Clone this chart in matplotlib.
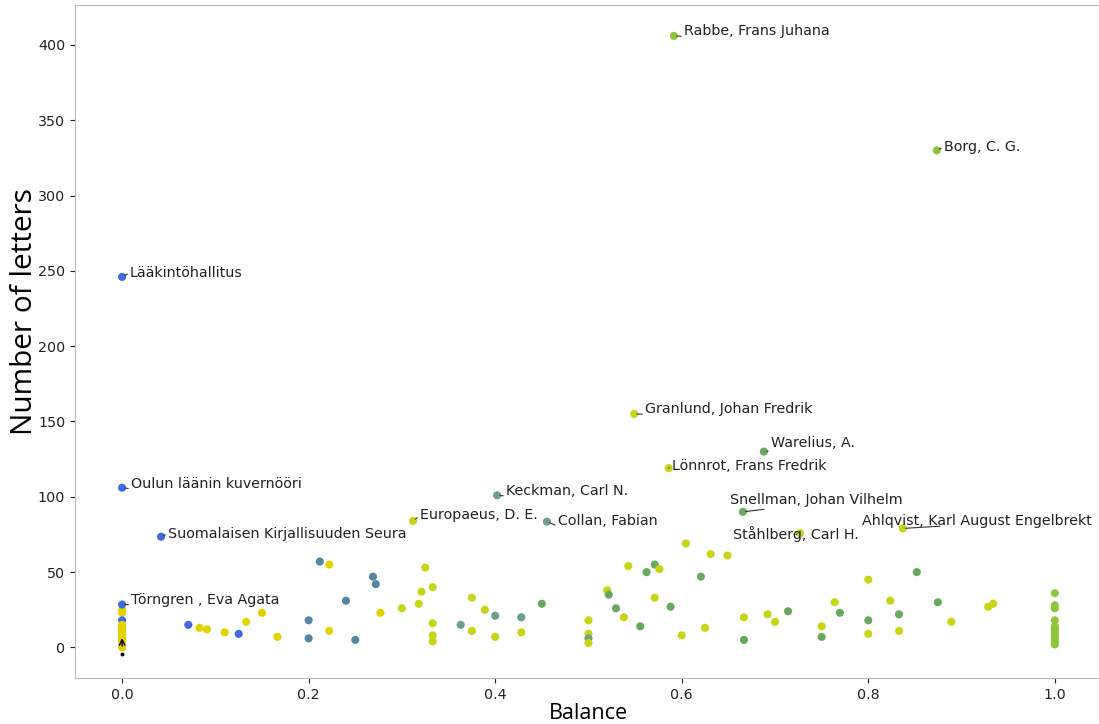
import matplotlib

matplotlib.use("Agg")
import matplotlib.pyplot as plt

# colour groups used by the points
palette = {
    "B": "#4169e1",
    "Y": "#e3d200",
    "T": "#5286a3",
    "S": "#6e9d88",
    "W": "#c6d514",
    "G": "#67a95c",
    "L": "#8dc63a",
}

# unlabelled points: balance, number of letters, colour group
balance = [
    0, 0, 0, 0, 0, 0, 0, 0, 0, 0, 0, 0,
    0.071, 0.083, 0.091, 0.110, 0.125, 0.133, 0.150, 0.1665,
    0.20, 0.20, 0.212, 0.222, 0.222, 0.24, 0.25, 0.269, 0.272, 0.277,
    0.30, 0.318, 0.321, 0.325, 0.333, 0.333, 0.333, 0.333,
    0.363, 0.375, 0.375, 0.389, 0.40, 0.40, 0.428, 0.428, 0.45,
    0.50, 0.50, 0.50, 0.50, 0.52, 0.5217, 0.5295, 0.538, 0.5427,
    0.5555, 0.5623, 0.571, 0.576, 0.571, 0.588, 0.60, 0.6045, 0.6206,
    0.625, 0.631, 0.649, 0.6667, 0.6667, 0.692, 0.70, 0.714,
    0.75, 0.75, 0.764, 0.7695, 0.80, 0.80, 0.80, 0.8235, 0.833, 0.833,
    0.852, 0.8746, 0.889, 0.9286, 0.934,
    1.0, 1.0, 1.0, 1.0, 1.0, 1.0, 1.0, 1.0, 1.0, 1.0, 1.0,
]
letters = [
    25, 23, 18, 15, 13, 11, 9, 7, 5, 4, 2, 0,
    15, 13, 12, 10, 9, 17, 23, 7,
    18, 6, 57, 55, 11, 31, 5, 47, 42, 23,
    26, 29, 37, 53, 40, 16, 8, 4,
    15, 33, 11, 25, 21, 7, 20, 10, 29,
    18, 9, 6, 3, 38, 35, 26, 20, 54,
    14, 50, 55, 52, 33, 27, 8, 69, 47,
    13, 62, 61, 20, 5, 22, 17, 24,
    14, 7, 30, 23, 45, 18, 9, 31, 22, 11,
    50, 30, 17, 27, 29,
    36, 28, 26, 18, 14, 12, 10, 8, 6, 4, 2,
]
group = [
    "Y", "Y", "B", "Y", "Y", "Y", "Y", "Y", "Y", "Y", "Y", "Y",
    "B", "Y", "Y", "Y", "B", "Y", "Y", "Y",
    "T", "T", "T", "Y", "Y", "T", "T", "T", "T", "Y",
    "W", "W", "W", "W", "W", "W", "W", "W",
    "S", "W", "W", "W", "S", "W", "S", "W", "G",
    "W", "W", "S", "W", "W", "G", "G", "W", "W",
    "G", "G", "G", "W", "W", "G", "W", "W", "G",
    "W", "W", "W", "W", "G", "W", "W", "G",
    "W", "G", "W", "G", "W", "G", "W", "W", "G", "W",
    "G", "G", "W", "W", "W",
    "L", "L", "L", "L", "L", "L", "L", "L", "L", "L", "L",
]

# labelled points
names = [
    "Rabbe, Frans Juhana", "Borg, C. G.", "Lääkintöhallitus",
    "Granlund, Johan Fredrik", "Warelius, A.", "Lönnrot, Frans Fredrik",
    "Oulun läänin kuvernööri", "Keckman, Carl N.", "Europaeus, D. E.",
    "Collan, Fabian", "Snellman, Johan Vilhelm", "Ståhlberg, Carl H.",
    "Ahlqvist, Karl August Engelbrekt", "Suomalaisen Kirjallisuuden Seura",
    "Törngren , Eva Agata",
]
name_balance = [0.5916, 0.8735, 0.0, 0.549, 0.688, 0.586, 0.0, 0.402,
                0.312, 0.4555, 0.6656, 0.7267, 0.837, 0.0418, 0.0]
name_letters = [406, 330, 246, 155, 130, 119, 106, 101, 84, 83.5, 90, 76,
                79, 73.5, 28.5]
name_group = ["L", "L", "B", "W", "G", "W", "B", "S", "W", "S", "G", "W",
              "W", "B", "B"]
# where each label sits (data units) and where its leader line meets it
label_x = [0.6024, 0.881, 0.0086, 0.5606, 0.6956, 0.5895, 0.0096, 0.4116,
           0.3194, 0.4673, 0.6517, 0.6549, 0.7931, 0.0493, 0.0096]
label_y = [409.3, 332.3, 248.8, 158.5, 136, 120.7, 108.8, 104.1, 87.6,
           83.6, 98.2, 75, 84.2, 75.6, 31.2]
line_rel = [(0.02, 0.1), (0, 0.5), (0, 0.5), (0.02, 0.1), (0.12, 0.0),
            (0, 0.5), (0.02, 0.1), (0.02, 0.1), (0, 0.5), (0.02, 0.1),
            (0.33, 0.0), (0.5, 0.5), (0.34, 0.1), (0, 0.5), (0.02, 0.2)]

fig = plt.figure(figsize=(10.99, 7.24), dpi=100)
ax = fig.add_axes([75 / 1099, 46 / 724, 1026 / 1099, 673 / 724])

ax.scatter(balance, letters, c=[palette[g] for g in group], s=34, linewidths=0)
ax.scatter(name_balance, name_letters, c=[palette[g] for g in name_group],
           s=34, linewidths=0)

for n, px, py, tx, ty, rp in zip(names, name_balance, name_letters,
                                 label_x, label_y, line_rel):
    ax.annotate(n, xy=(px, py), xytext=(tx, ty), ha="left", va="center",
                fontsize=10.3, color="#222222",
                arrowprops=dict(arrowstyle="-", color="#333333", lw=0.8,
                                shrinkA=0, shrinkB=2, relpos=rp))

# leftover adjustText arrow in the x = 0 cluster
ax.annotate("", xy=(0, 8), xytext=(0, -1),
            arrowprops=dict(arrowstyle="->", color="black", lw=1.0))
ax.plot([0], [-4.5], marker="o", ms=1.8, color="black")

ax.set_xlim(-0.0505, 1.0495)
ax.set_ylim(-20.3, 426.5)
ax.set_xticks([0.0, 0.2, 0.4, 0.6, 0.8, 1.0])
ax.set_yticks(range(0, 401, 50))
ax.tick_params(labelsize=10.3, colors="#222222")
for sp in ax.spines.values():
    sp.set_color("#bbbbbb")
ax.set_xlabel("Balance", fontsize=15.5, family="Open Sans", labelpad=1)
ax.set_ylabel("Number of letters", fontsize=21.4, family="Open Sans")
ax.yaxis.set_label_coords(-0.035, 0.545)

fig.savefig("out.png", dpi=100)
